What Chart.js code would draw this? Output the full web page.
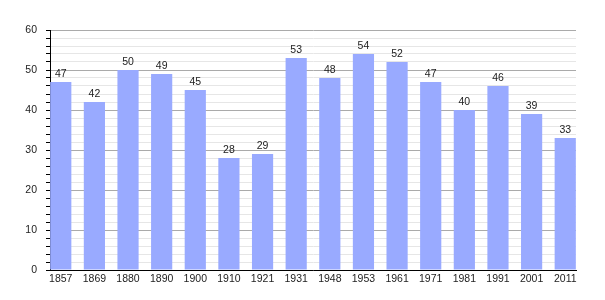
<!DOCTYPE html>
<html>
<head>
<meta charset="utf-8">
<script src="https://cdn.jsdelivr.net/npm/chart.js@4"></script>
<style>
    html, body { margin: 0; padding: 0; background: #fff; }
    #wrap { width: 605px; height: 300px; }
</style>
</head>
<body>
<div id="wrap"><canvas id="chart"></canvas></div>
<script>
// Census years and population values
const years = ['1857', '1869', '1880', '1890', '1900', '1910', '1921', '1931',
    '1948', '1953', '1961', '1971', '1981', '1991', '2001', '2011'];
const population = [47, 42, 50, 49, 45, 28, 29, 53, 48, 54, 52, 47, 40, 46, 39, 33];
const yTicks = [0, 10, 20, 30, 40, 50, 60];

const BAR_COLOR = '#99aaff';
const FONT = { family: '"Liberation Sans", Arial, sans-serif', size: 10.5 };

// Draw the value above each bar
const valueLabels = {
    id: 'valueLabels',
    afterDatasetsDraw(chart) {
        const ctx = chart.ctx;
        const meta = chart.getDatasetMeta(0);
        ctx.save();
        ctx.font = `${FONT.size}px ${FONT.family}`;
        ctx.fillStyle = '#222';
        ctx.textAlign = 'center';
        ctx.textBaseline = 'bottom';
        meta.data.forEach((bar, i) => {
            ctx.fillText(population[i], bar.x, bar.y - 3);
        });
        ctx.restore();
    }
};

new Chart(document.getElementById('chart'), {
    type: 'bar',
    data: {
        datasets: [{
            data: population.map((v, i) => ({ x: i, y: v })),
            backgroundColor: BAR_COLOR,
            borderWidth: 0,
            barPercentage: 0.63,
            categoryPercentage: 1
        }]
    },
    plugins: [valueLabels],
    options: {
        responsive: true,
        maintainAspectRatio: false,
        animation: false,
        layout: { padding: { top: 30, right: 29, left: 0, bottom: 0 } },
        plugins: {
            legend: { display: false },
            tooltip: { enabled: false }
        },
        scales: {
            x: {
                type: 'linear',
                offset: false,
                min: -0.32,
                max: years.length - 1 + 0.32,
                afterBuildTicks: (scale) => {
                    scale.ticks = years.map((y, i) => ({ value: i }));
                },
                afterFit: (scale) => { scale.height = 30; },
                grid: { display: true, color: 'transparent', drawTicks: false, offset: false },
                border: { display: true, color: '#000', width: 1 },
                ticks: {
                    callback: (v) => years[v],
                    color: '#222',
                    font: FONT,
                    padding: 3,
                    maxRotation: 0,
                    autoSkip: false
                }
            },
            y: {
                min: 0,
                max: 60,
                afterFit: (scale) => { scale.width = 50; },
                ticks: {
                    stepSize: 2,
                    autoSkip: false,
                    callback: (v) => yTicks.includes(v) ? v : '',
                    color: '#222',
                    font: FONT,
                    padding: 9
                },
                grid: {
                    color: (c) => c.tick && c.tick.value % 10 === 0 ? '#aaaaaa' : '#e6e6e6',
                    tickColor: '#000',
                    tickLength: 4
                },
                border: { display: true, color: '#000', width: 1 }
            }
        }
    }
});
</script>
</body>
</html>
